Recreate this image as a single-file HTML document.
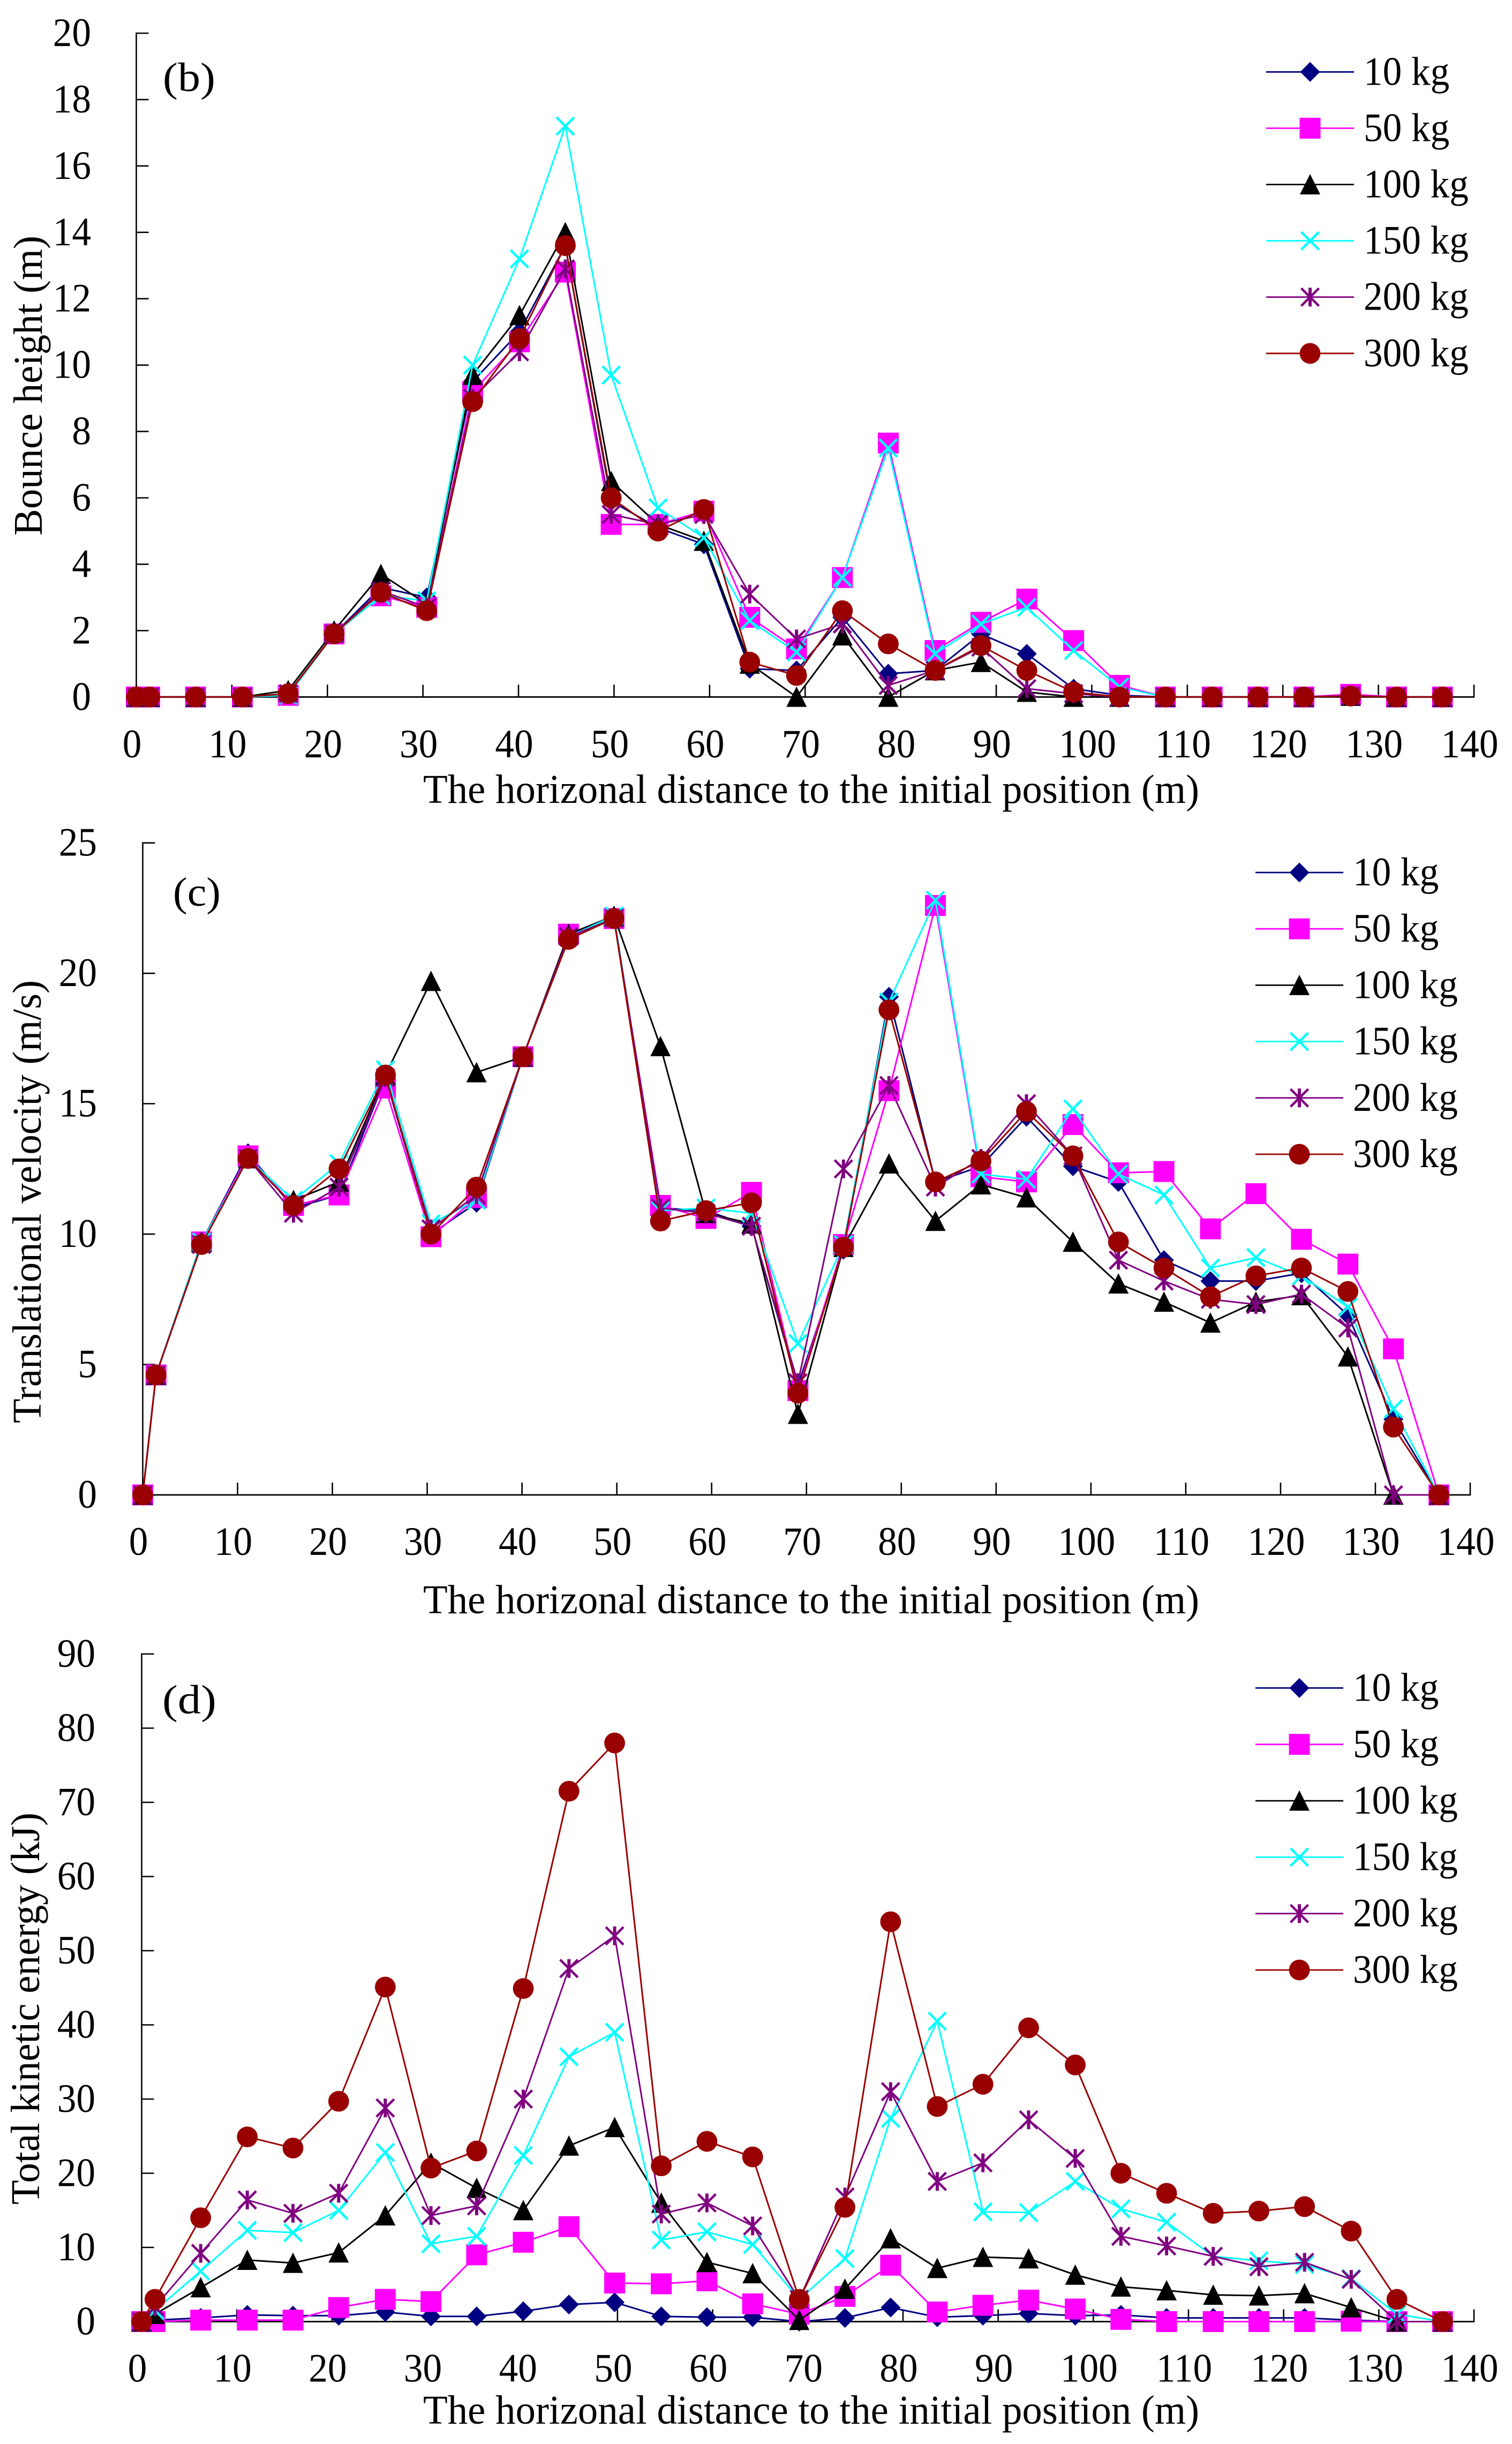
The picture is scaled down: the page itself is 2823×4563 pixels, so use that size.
<!DOCTYPE html>
<html lang="en">
<head>
<meta charset="utf-8">
<title>Bounce height, translational velocity and total kinetic energy charts</title>
<style>
html,body{margin:0;padding:0;background:#fff;}
svg{display:block;}
text{font-family:"Liberation Serif",serif;fill:#000;}
</style>
</head>
<body>
<svg id="figure" xmlns="http://www.w3.org/2000/svg" width="2823" height="4563" viewBox="0 0 2823 4563">
<rect width="2823" height="4563" fill="#ffffff"/>
<g id="panel-b">
<text x="304" y="170" font-size="76" textLength="98" lengthAdjust="spacingAndGlyphs">(b)</text>
<text transform="translate(78 1000) rotate(-90)" font-size="76" textLength="560" lengthAdjust="spacingAndGlyphs">Bounce height (m)</text>
<text x="790" y="1499" font-size="76" textLength="1449" lengthAdjust="spacingAndGlyphs">The horizonal distance to the initial position (m)</text>
</g>
<g id="panel-c">
<text x="323" y="1691" font-size="76" textLength="89" lengthAdjust="spacingAndGlyphs">(c)</text>
<text transform="translate(76 2657) rotate(-90)" font-size="76" textLength="827" lengthAdjust="spacingAndGlyphs">Translational velocity (m/s)</text>
<text x="790" y="3012" font-size="76" textLength="1449" lengthAdjust="spacingAndGlyphs">The horizonal distance to the initial position (m)</text>
</g>
<g id="panel-d">
<text x="303" y="3199" font-size="76" textLength="101" lengthAdjust="spacingAndGlyphs">(d)</text>
<text transform="translate(73 4116) rotate(-90)" font-size="76" textLength="732" lengthAdjust="spacingAndGlyphs">Total kinetic energy (kJ)</text>
<text x="790" y="4525" font-size="76" textLength="1449" lengthAdjust="spacingAndGlyphs">The horizonal distance to the initial position (m)</text>
</g>
</svg>
<script>
// Shared horizontal distances (m)
const distances = [0,1.4,6.2,11.1,15.9,20.7,25.6,30.4,35.2,40.1,44.9,49.7,54.6,59.4,64.2,69.1,73.9,78.7,83.6,88.4,93.2,98.1,102.9,107.7,112.6,117.4,122.2,127.1,131.9,136.7];
const xTickLabels = [0,10,20,30,40,50,60,70,80,90,100,110,120,130,140];
const seriesNames = ['10 kg','50 kg','100 kg','150 kg','200 kg','300 kg'];

// (b) Bounce height (m)
const bounceTicks = [0,2,4,6,8,10,12,14,16,18,20];
const bounce10 = [0,0,0,0,0.1,1.9,3.3,3.0,9.5,11.0,13.6,5.9,5.1,4.6,0.85,0.8,2.4,0.7,0.8,1.9,1.3,0.25,0.05,0,0,0,0,0.05,0,0];
const bounce50 = [0,0,0,0,0.05,1.9,3.05,2.7,9.2,10.7,12.8,5.2,5.2,5.6,2.4,1.45,3.6,7.65,1.4,2.25,2.95,1.7,0.35,0,0,0,0,0.08,0,0];
const bounce100 = [0,0,0,0,0.2,2.0,3.7,2.8,9.7,11.5,14.0,6.5,5.2,4.7,1.0,0,1.85,0,0.8,1.05,0.15,0,0,0,0,0,0,0.03,0,0];
const bounce150 = [0,0,0,0,0.05,1.9,3.05,2.9,10.0,13.2,17.2,9.7,5.7,4.8,2.3,1.35,3.6,7.5,1.3,2.2,2.7,1.4,0.3,0,0,0,0,0.03,0,0];
const bounce200 = [0,0,0,0,0.1,1.9,3.2,2.7,9.0,10.4,12.9,5.5,5.2,5.5,3.1,1.75,2.2,0.35,0.8,1.5,0.25,0.1,0,0,0,0,0,0.03,0,0];
const bounce300 = [0,0,0,0,0.1,1.9,3.15,2.6,8.9,10.8,13.6,6.0,5.0,5.65,1.05,0.65,2.6,1.6,0.8,1.55,0.8,0.15,0,0,0,0,0,0.03,0,0];

// (c) Translational velocity (m/s)
const velocityTicks = [0,5,10,15,20,25];
const velocity10 = [0,4.6,9.7,13.1,11.0,11.5,16.0,10.0,11.2,16.8,21.4,22.1,11.0,10.9,10.3,4.2,9.4,19.1,12.0,12.6,14.5,12.6,12.0,9.0,8.2,8.2,8.5,6.9,2.9,0];
const velocity50 = [0,4.6,9.7,13.0,11.1,11.5,15.6,9.9,11.4,16.8,21.5,22.1,11.1,10.6,11.6,4.0,9.6,15.5,22.6,12.2,12.0,14.2,12.35,12.4,10.2,11.55,9.8,8.85,5.6,0];
const velocity100 = [0,4.6,9.7,12.9,11.3,12.0,16.1,19.7,16.2,16.8,21.5,22.2,17.2,10.8,10.4,3.1,9.5,12.7,10.5,11.9,11.4,9.7,8.1,7.4,6.6,7.4,7.65,5.3,0,0];
const velocity150 = [0,4.6,9.7,12.9,11.3,12.7,16.3,10.4,11.3,16.8,21.4,22.2,10.9,11.0,10.8,5.8,9.6,18.9,22.8,12.3,12.1,14.8,12.3,11.5,8.7,9.1,8.4,7.2,3.3,0];
const velocity200 = [0,4.6,9.6,12.9,10.8,11.8,16.0,10.2,11.5,16.8,21.4,22.1,11.0,10.8,10.3,4.3,12.5,15.7,11.8,12.9,15.0,13.0,9.0,8.2,7.5,7.3,7.7,6.4,0,0];
const velocity300 = [0,4.6,9.6,12.9,11.1,12.5,16.1,10.0,11.8,16.8,21.3,22.1,10.5,10.9,11.2,3.9,9.5,18.6,12.0,12.8,14.7,13.0,9.7,8.7,7.6,8.4,8.7,7.8,2.6,0];

// (d) Total kinetic energy (kJ)
const energyTicks = [0,10,20,30,40,50,60,70,80,90];
const energy10 = [0,0.2,0.5,0.9,0.8,0.8,1.3,0.7,0.7,1.4,2.3,2.6,0.7,0.6,0.6,0,0.5,1.9,0.6,0.8,1.1,0.8,0.9,0.5,0.5,0.5,0.5,0.2,0,0];
const energy50 = [0,0,0.2,0.2,0.2,1.9,3.0,2.7,9.0,10.7,12.8,5.2,5.1,5.5,2.4,1.0,3.4,7.6,1.3,2.2,2.9,1.7,0.3,0,0,0,0,0.05,0,0];
const energy100 = [0,1,4.6,8.3,7.9,9.3,14.3,21.4,18,15,23.7,26.2,16,8,6.5,0.2,4.4,11.2,7.2,8.7,8.5,6.3,4.7,4.2,3.6,3.5,3.8,1.9,0,0];
const energy150 = [0,1.5,6.8,12.3,12,15,22.8,10.5,11.5,22.4,35.7,39,11,12.1,10.4,3,8.5,27.4,40.5,14.8,14.7,18.9,15.2,13.4,8.8,8.2,7.7,5.8,1,0];
const energy200 = [0,2,9.2,16.4,14.6,17.3,28.8,14.3,15.6,30,47.6,52,14.5,16,12.9,3,16.8,31,18.9,21.4,27.2,22,11.5,10.2,8.8,7.4,8,5.7,0,0];
const energy300 = [0,3,14,24.9,23.4,29.7,45.1,20.7,23,44.9,71.5,78,21,24.3,22.2,3,15.4,53.9,29,32,39.6,34.6,20,17.3,14.6,14.9,15.5,12.2,3,0];

const NS = 'http://www.w3.org/2000/svg';
const colors = ['#000080','#ff00ff','#000000','#00ffff','#800080','#990000'];
const kinds = ['diamond','square','triangle','cross','star','circle'];
const slugs = ['10kg','50kg','100kg','150kg','200kg','300kg'];

function make(tag, props, parent) {
  const el = document.createElementNS(NS, tag);
  for (const k in props) el.setAttribute(k, props[k]);
  parent.appendChild(el);
  return el;
}

// Narrow the text slightly to match the reference glyph proportions.
function condense(el) {
  const w = el.getComputedTextLength();
  el.setAttribute('textLength', (w * 0.95).toFixed(1));
  el.setAttribute('lengthAdjust', 'spacingAndGlyphs');
}

function drawMarker(parent, kind, color, x, y) {
  if (kind === 'diamond') {
    return make('polygon', {points: [x,y-18.5,x+18.5,y,x,y+18.5,x-18.5,y].join(' '), fill: color}, parent);
  }
  if (kind === 'square') {
    return make('rect', {x: x-19.5, y: y-19.5, width: 39, height: 39, fill: color}, parent);
  }
  if (kind === 'triangle') {
    return make('polygon', {points: [x,y-19.5,x+19,y+18.5,x-19,y+18.5].join(' '), fill: color}, parent);
  }
  if (kind === 'circle') {
    return make('circle', {cx: x, cy: y, r: 19.4, fill: color}, parent);
  }
  if (kind === 'star') {
    const g = make('g', {}, parent);
    make('path', {d: `M${x-16.5} ${y-16.5}L${x+16.5} ${y+16.5}M${x+16.5} ${y-16.5}L${x-16.5} ${y+16.5}`, stroke: color, 'stroke-width': 4.5, fill: 'none'}, g);
    make('path', {d: `M${x} ${y-17.5}L${x} ${y+17.5}`, stroke: color, 'stroke-width': 6, fill: 'none'}, g);
    return g;
  }
  return make('path', {d: `M${x-16.5} ${y-16.5}L${x+16.5} ${y+16.5}M${x+16.5} ${y-16.5}L${x-16.5} ${y+16.5}`, stroke: color, 'stroke-width': 4.5, fill: 'none'}, parent);
}

function drawChart(cfg) {
  const root = document.getElementById(cfg.id);
  const xScale = v => cfg.x0 + (v / 140) * (cfg.x1 - cfg.x0);
  const yScale = v => cfg.y0 - (v / cfg.yMax) * (cfg.y0 - cfg.yTop);

  const axes = make('g', {}, root);
  
  

  const yLine = make('line', {x1: cfg.x0, x2: cfg.x0, y1: yScale(cfg.yMax) - 1.2, y2: cfg.y0, stroke: '#000', 'stroke-width': 2.6}, axes);
  
  

  const xLine = make('line', {x1: cfg.x0, x2: cfg.x1 + 1.2, y1: cfg.y0, y2: cfg.y0, stroke: '#000', 'stroke-width': 2.8}, axes);
  
  

  cfg.yTicks.forEach(v => {
    const t = make('line', {x1: cfg.x0, x2: cfg.x0 + 23, y1: yScale(v), y2: yScale(v), stroke: '#000', 'stroke-width': 2.6}, axes);
    
    
    const l = make('text', {x: cfg.yLabelX, y: yScale(v) + 24, 'font-size': 75, 'text-anchor': 'end'}, axes);
    
    
    l.textContent = v;
    condense(l);
  });

  xTickLabels.forEach(v => {
    const t = make('line', {x1: xScale(v), x2: xScale(v), y1: cfg.y0, y2: cfg.y0 - 23, stroke: '#000', 'stroke-width': 2.6}, axes);
    
    
    const l = make('text', {x: xScale(v) - 8, y: cfg.xLabelY, 'font-size': 75, 'text-anchor': 'middle'}, axes);
    
    
    l.textContent = v;
    condense(l);
  });

  cfg.series.forEach((vals, s) => {
    const g = make('g', {}, root);
    
    
    const pts = vals.map((v, i) => xScale(distances[i]).toFixed(1) + ',' + yScale(v).toFixed(1)).join(' ');
    const line = make('polyline', {points: pts, fill: 'none', stroke: colors[s], 'stroke-width': 3, 'stroke-linejoin': 'round'}, g);
    
    
    vals.forEach((v, i) => {
      const m = drawMarker(g, kinds[s], colors[s], xScale(distances[i]), yScale(v));
      
      
    });
  });

  const legend = make('g', {}, root);
  
  
  seriesNames.forEach((name, s) => {
    const y = cfg.legendY + s * cfg.legendStep;
    const entry = make('g', {}, legend);
    
    
    make('line', {x1: cfg.legendX, x2: cfg.legendX + 164, y1: y, y2: y, stroke: colors[s], 'stroke-width': 2.8}, entry);
    drawMarker(entry, kinds[s], colors[s], cfg.legendX + 82, y);
    const label = make('text', {x: cfg.legendX + 182, y: y + 24, 'font-size': 75}, entry);
    
    
    label.textContent = name;
    condense(label);
  });
}

drawChart({id: 'panel-b', x0: 254.5, x1: 2752, y0: 1301.3, yTop: 62, yMax: 20, yTicks: bounceTicks, yLabelX: 170, xLabelY: 1414,
  series: [bounce10, bounce50, bounce100, bounce150, bounce200, bounce300], legendX: 2364, legendY: 134.3, legendStep: 105.1});
drawChart({id: 'panel-c', x0: 266.5, x1: 2745, y0: 2791, yTop: 1573.7, yMax: 25, yTicks: velocityTicks, yLabelX: 181, xLabelY: 2903,
  series: [velocity10, velocity50, velocity100, velocity150, velocity200, velocity300], legendX: 2344, legendY: 1629, legendStep: 105.2});
drawChart({id: 'panel-d', x0: 264.5, x1: 2752, y0: 4334.5, yTop: 3088, yMax: 90, yTicks: energyTicks, yLabelX: 178, xLabelY: 4446.5,
  series: [energy10, energy50, energy100, energy150, energy200, energy300], legendX: 2344, legendY: 3151.5, legendStep: 105.3});
</script>
</body>
</html>
